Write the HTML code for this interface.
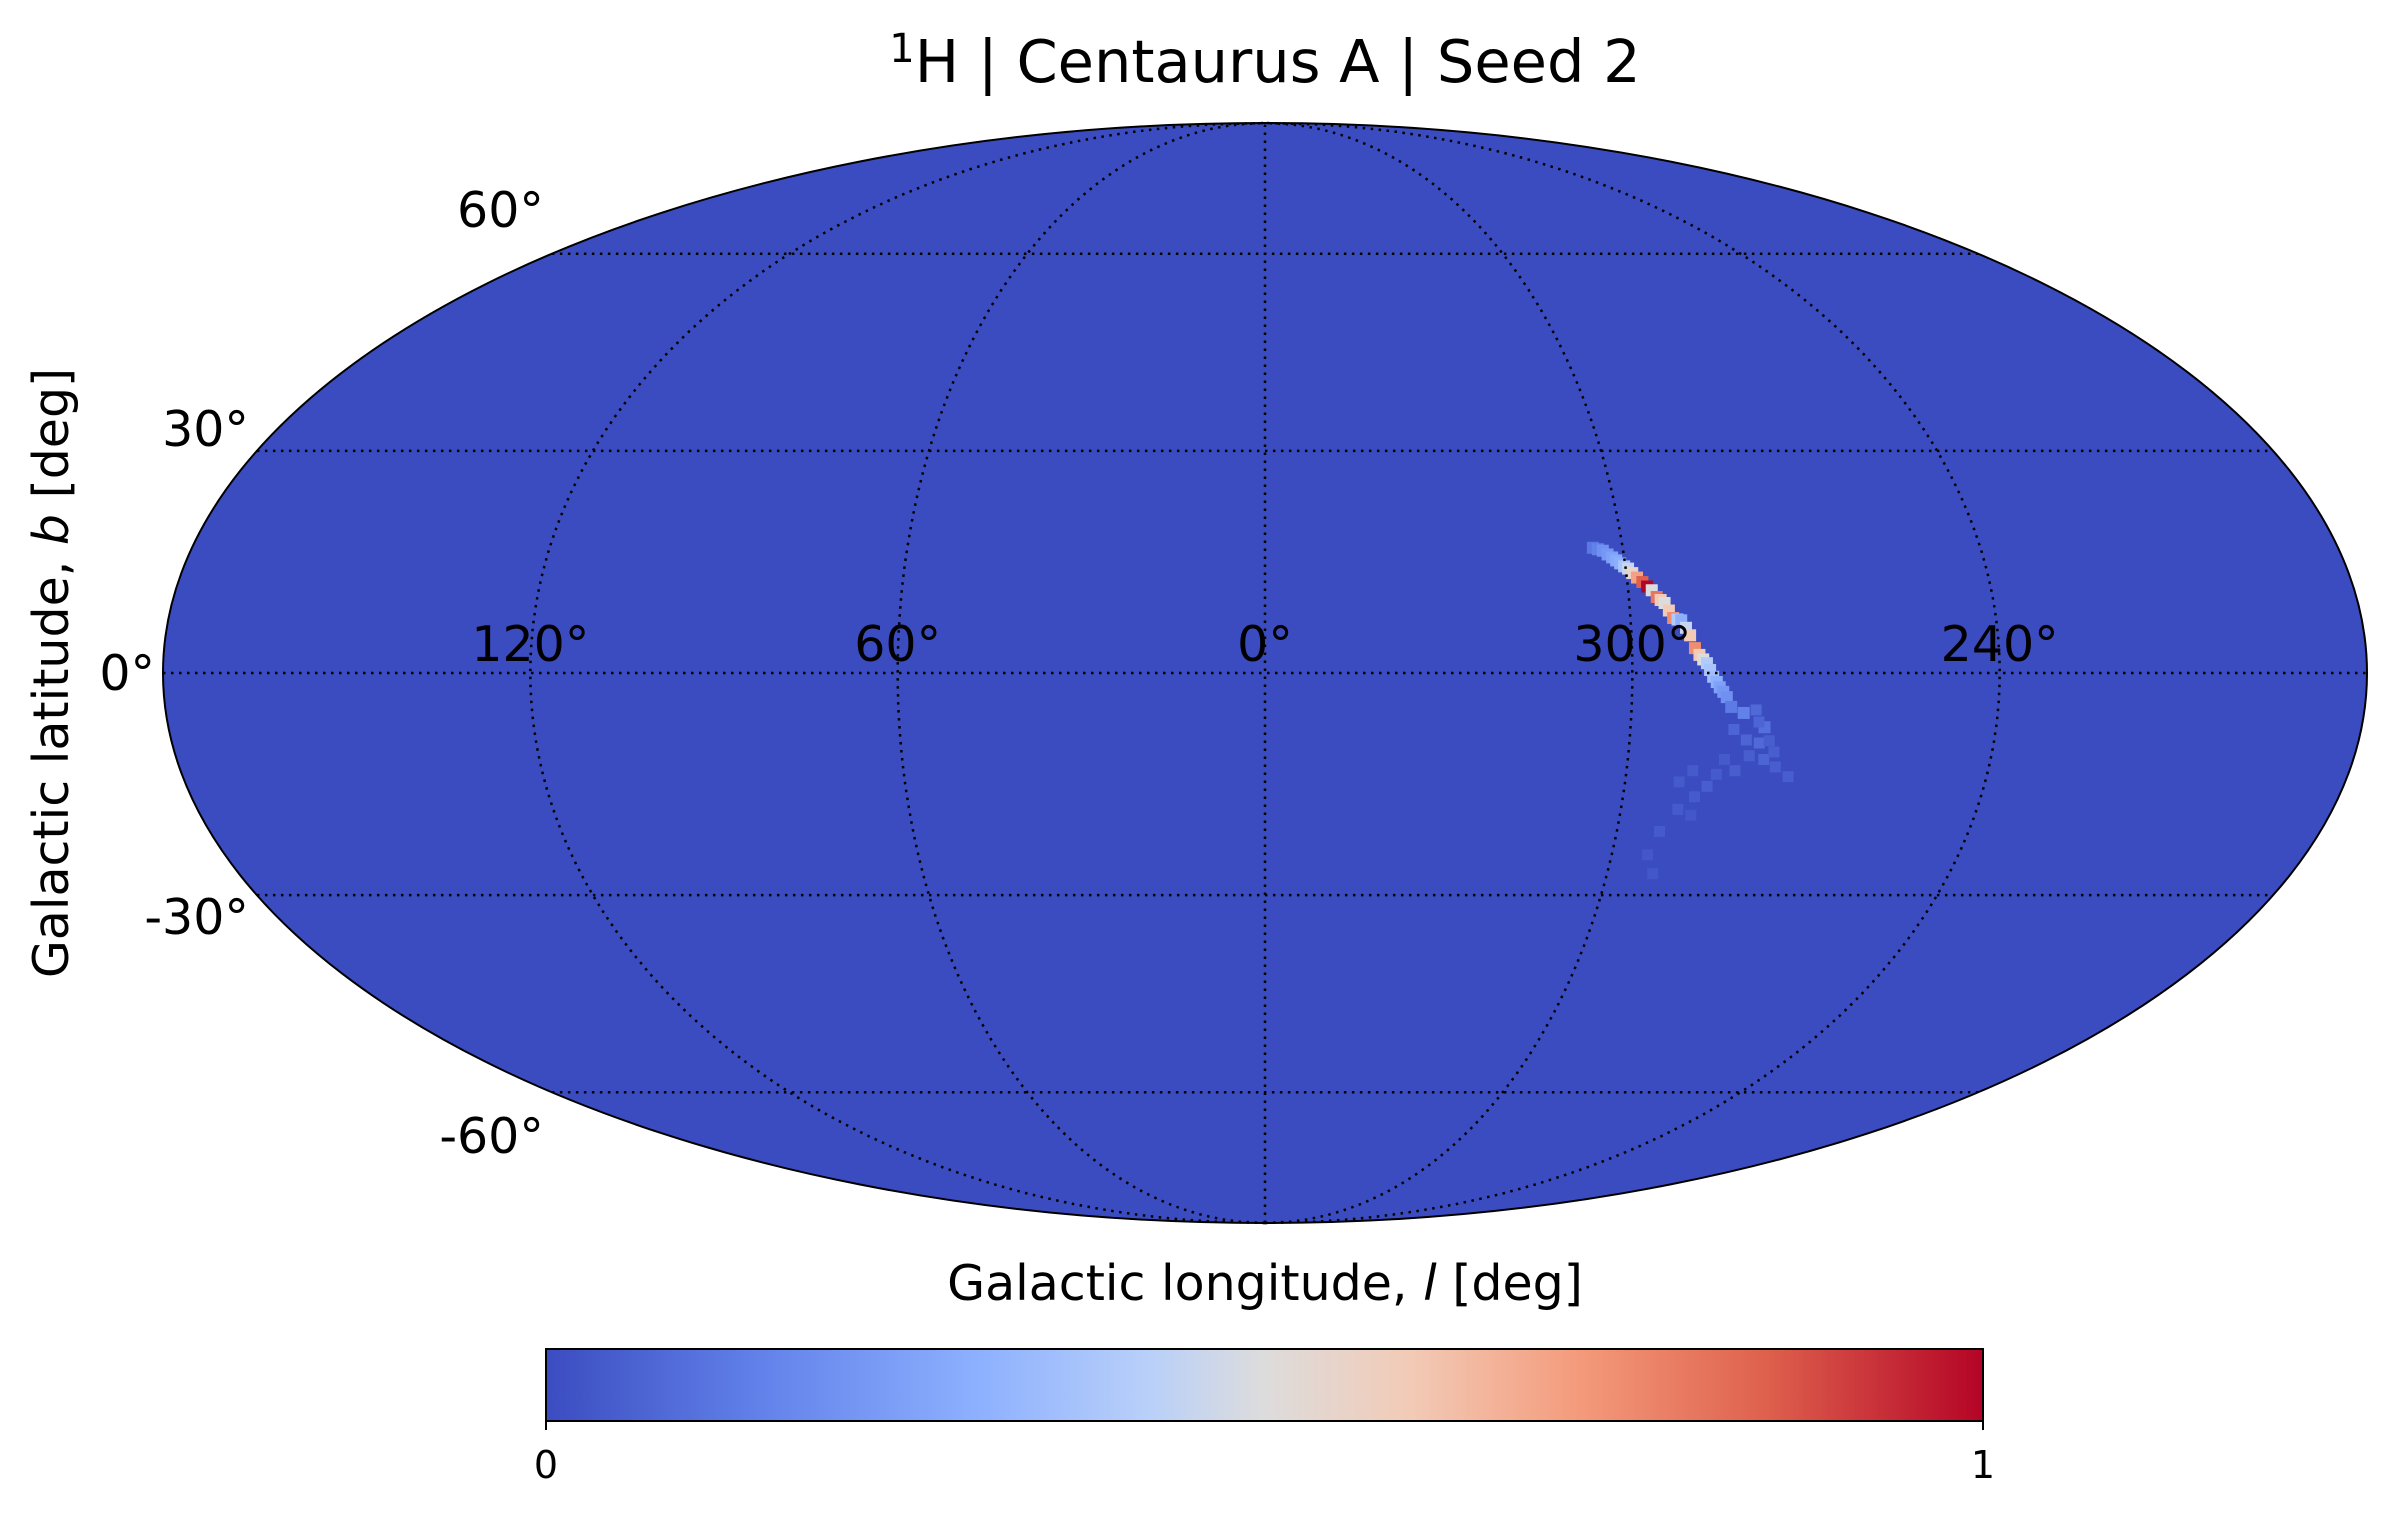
<!DOCTYPE html>
<html><head><meta charset="utf-8"><style>
html,body{margin:0;padding:0;background:#fff}
svg{display:block}
text{font-family:"DejaVu Sans","Liberation Sans",sans-serif;fill:#000}
</style></head><body>
<svg id="chart" width="2396" height="1521" viewBox="0 0 2396 1521" xmlns="http://www.w3.org/2000/svg">
<defs>
<linearGradient id="cw" x1="0" x2="1" y1="0" y2="0">
<stop offset="0" stop-color="#3b4cc0"/><stop offset="0.15" stop-color="#6282ea"/><stop offset="0.3" stop-color="#8db0fe"/><stop offset="0.42" stop-color="#b9d0f9"/><stop offset="0.5" stop-color="#dddcdc"/><stop offset="0.6" stop-color="#f2cbb7"/><stop offset="0.72" stop-color="#f49a7b"/><stop offset="0.85" stop-color="#de604d"/><stop offset="1" stop-color="#b40426"/>
</linearGradient>
<clipPath id="ellclip"><ellipse cx="1265" cy="673" rx="1102" ry="550"/></clipPath>
</defs>
<text x="1265" y="82" text-anchor="middle" font-size="59"><tspan font-size="40" dy="-20">1</tspan><tspan dy="20">H | Centaurus A | Seed 2</tspan></text>
<ellipse cx="1265" cy="673" rx="1102" ry="550" fill="#3b4cc0"/>
<g id="cells" clip-path="url(#ellclip)"></g>
<g id="grid"></g>
<ellipse cx="1265" cy="673" rx="1102" ry="550" fill="none" stroke="#000" stroke-width="2"/>
<g id="labels"></g>
<text transform="translate(68,673) rotate(-90)" text-anchor="middle" font-size="49">Galactic latitude, <tspan font-style="italic">b</tspan> [deg]</text>
<text x="1265" y="1300" text-anchor="middle" font-size="49">Galactic longitude, <tspan font-style="italic">l</tspan> [deg]</text>
<rect x="546" y="1349" width="1437" height="72" fill="url(#cw)" stroke="#000" stroke-width="2"/>
<line x1="546" y1="1421" x2="546" y2="1430" stroke="#000" stroke-width="2"/>
<line x1="1983" y1="1421" x2="1983" y2="1430" stroke="#000" stroke-width="2"/>
<text x="546" y="1478" text-anchor="middle" font-size="38">0</text>
<text x="1983" y="1478" text-anchor="middle" font-size="38">1</text>
</svg>
<script>
const cellLon=[305,304.2,303.4,302.7,302,301.4,300.8,300.2,299.6,299,298.3,297.5,296.8,296.1,295.4,294.8,294.2,293.6,293,292.3,291.7,291,290.4,289.7,289,288.4,287.8,287.3,286.8,286.2,285.7,285.1,284.5,283.7,281.6,279.6,278,278.6,277.5,280.8,275.4,273,286.2,290.4,292.7,293.8,292,279,276,282,285,288,291,283,280,277,284,288,289];
const cellLat=[16.7,16.5,16.3,15.8,15.4,15.0,14.6,14.2,13.9,13.3,12.7,12.1,11.5,11.0,10.1,9.7,9.3,8.3,7.3,7.1,7.0,6.0,5.0,3.3,2.4,1.8,1.3,0.4,-0.5,-1.2,-1.9,-2.5,-3.2,-4.5,-5.3,-4.9,-7.2,-9.3,-11.5,-8.9,-12.5,-13.8,-15.1,-18.2,-21.2,-24.4,-27,-6.5,-10.5,-13,-13.5,-16.5,-14.5,-7.5,-11,-9,-11.5,-19,-13];
const cellVal=[0.12,0.15,0.2,0.22,0.25,0.28,0.3,0.38,0.45,0.55,0.7,0.85,1.0,0.5,0.8,0.6,0.5,0.6,0.75,0.4,0.3,0.45,0.6,0.75,0.6,0.5,0.4,0.38,0.35,0.3,0.25,0.22,0.2,0.13,0.15,0.08,0.1,0.08,0.07,0.07,0.05,0.05,0.05,0.04,0.04,0.03,0.03,0.07,0.05,0.05,0.04,0.04,0.04,0.07,0.05,0.05,0.04,0.03,0.04];
const lonTicks=[120,60,0,300,240];
const latTicks=[60,30,0,-30,-60];
const CX=1265,CY=673,A=1102,B=550;
function theta(latDeg){const p=latDeg*Math.PI/180;if(Math.abs(latDeg)>=90)return Math.sign(latDeg)*Math.PI/2;let t=p;for(let i=0;i<50;i++){const f=2*t+Math.sin(2*t)-Math.PI*Math.sin(p);t-=f/(2+2*Math.cos(2*t));}return t;}
function proj(lon,lat){let d=lon;if(d>180)d-=360;const t=theta(lat);return [CX-A*(d/180)*Math.cos(t),CY-B*Math.sin(t)];}
const stops=[[0,[59,76,192]],[0.15,[98,130,234]],[0.3,[141,176,254]],[0.42,[185,208,249]],[0.5,[221,220,220]],[0.6,[242,203,183]],[0.72,[244,154,123]],[0.85,[222,96,77]],[1,[180,4,38]]];
function cmap(v){for(let i=1;i<stops.length;i++){if(v<=stops[i][0]){const a=stops[i-1],b=stops[i],f=(v-a[0])/(b[0]-a[0]);return 'rgb('+a[1].map((c,k)=>Math.round(c+(b[1][k]-c)*f)).join(',')+')';}}return 'rgb(180,4,38)';}
const NS='http://www.w3.org/2000/svg';
const cells=document.getElementById('cells');
for(let i=0;i<cellLon.length;i++){const [x,y]=proj(cellLon[i],cellLat[i]);const r=document.createElementNS(NS,'rect');const s=cellVal[i]<0.1?11:12;
r.setAttribute('x',x-s/2);r.setAttribute('y',y-s/2);r.setAttribute('width',s);r.setAttribute('height',s);r.setAttribute('fill',cmap(cellVal[i]));


cells.appendChild(r);}
const grid=document.getElementById('grid');
function dotted(d,name){const p=document.createElementNS(NS,'path');p.setAttribute('d',d);p.setAttribute('fill','none');p.setAttribute('stroke','#000');p.setAttribute('stroke-width','2.5');p.setAttribute('stroke-dasharray','2.5 5.5');


grid.appendChild(p);}
for(const lon of lonTicks){let d='';for(let lat=-90;lat<=90;lat+=1){const [x,y]=proj(lon,lat);d+=(lat===-90?'M':'L')+x.toFixed(1)+' '+y.toFixed(1);}dotted(d,'meridian-'+lon);}
for(const lat of latTicks){const [x1,y]=proj(179.999,lat),[x2]=proj(180.001,lat);dotted('M'+x1+' '+y+'L'+x2+' '+y,'parallel-'+lat);}
const labels=document.getElementById('labels');
function txt(x,y,s,anchor,name){const t=document.createElementNS(NS,'text');t.setAttribute('x',x);t.setAttribute('y',y);t.setAttribute('font-size','49');t.setAttribute('text-anchor',anchor);t.textContent=s;


labels.appendChild(t);}
for(const lon of lonTicks){const [x]=proj(lon,0);txt(x,661,lon+'°','middle','lon-label-'+lon);}
for(const lat of latTicks){const [x,y]=proj(179.999,lat);txt(x-8,y-lat*0.73+17,lat+'°','end','lat-label-'+lat);}
</script>
</body></html>
